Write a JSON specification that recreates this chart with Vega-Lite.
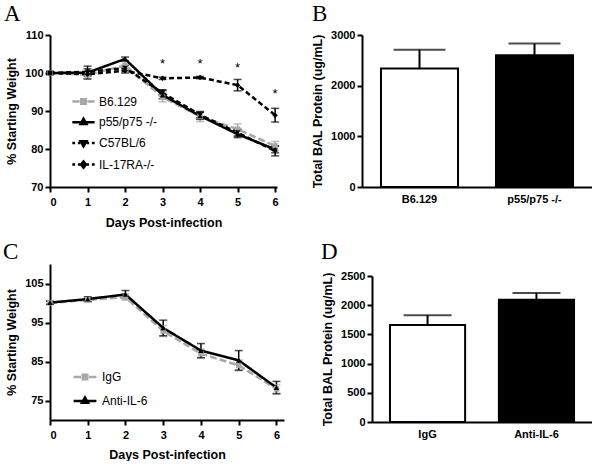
{
  "$schema": "https://vega.github.io/schema/vega-lite/v6.json",
  "padding": {"left": 3, "top": 3, "right": 0, "bottom": 0},
  "background": "white",
  "config": {
    "font": "Liberation Sans",
    "view": {"stroke": null},
    "axis": {
      "grid": false,
      "domainColor": "black",
      "domainWidth": 2,
      "tickColor": "black",
      "tickWidth": 2,
      "tickSize": 5,
      "labelColor": "black",
      "labelFont": "Liberation Sans",
      "labelFontWeight": "bold",
      "labelFontSize": 11,
      "labelOverlap": false,
      "titleColor": "black",
      "titleFont": "Liberation Sans",
      "titleFontWeight": "bold",
      "titleFontSize": 12.5
    },
    "title": {"font": "Liberation Serif", "fontSize": 23, "fontWeight": "normal", "color": "black", "anchor": "start", "frame": "group"},
    "legend": {"labelFont": "Liberation Sans", "labelFontSize": 12, "labelColor": "black", "padding": 0}
  },
  "datasets": {
    "weightA": [
      {"series": "B6.129", "day": 0, "mean": 100.0, "lo": 99.6, "hi": 100.4},
      {"series": "B6.129", "day": 1, "mean": 99.5, "lo": 98.6, "hi": 100.4},
      {"series": "B6.129", "day": 2, "mean": 102.0, "lo": 101.0, "hi": 103.0},
      {"series": "B6.129", "day": 3, "mean": 93.6, "lo": 92.4, "hi": 94.8},
      {"series": "B6.129", "day": 4, "mean": 88.6, "lo": 87.2, "hi": 90.0},
      {"series": "B6.129", "day": 5, "mean": 85.2, "lo": 84.0, "hi": 86.6},
      {"series": "B6.129", "day": 6, "mean": 80.8, "lo": 79.6, "hi": 82.0},
      {"series": "p55/p75 -/-", "day": 0, "mean": 100.0, "lo": 99.6, "hi": 100.4},
      {"series": "p55/p75 -/-", "day": 1, "mean": 100.1, "lo": 98.4, "hi": 101.8},
      {"series": "p55/p75 -/-", "day": 2, "mean": 103.7, "lo": 103.2, "hi": 104.2},
      {"series": "p55/p75 -/-", "day": 3, "mean": 94.2, "lo": 93.2, "hi": 95.4},
      {"series": "p55/p75 -/-", "day": 4, "mean": 88.7, "lo": 87.8, "hi": 89.6},
      {"series": "p55/p75 -/-", "day": 5, "mean": 83.9, "lo": 83.0, "hi": 84.8},
      {"series": "p55/p75 -/-", "day": 6, "mean": 79.9, "lo": 79.0, "hi": 80.8},
      {"series": "C57BL/6", "day": 0, "mean": 100.0, "lo": 99.6, "hi": 100.4},
      {"series": "C57BL/6", "day": 1, "mean": 100.3, "lo": 99.5, "hi": 101.1},
      {"series": "C57BL/6", "day": 2, "mean": 101.3, "lo": 100.6, "hi": 102.0},
      {"series": "C57BL/6", "day": 3, "mean": 94.8, "lo": 94.0, "hi": 95.6},
      {"series": "C57BL/6", "day": 4, "mean": 89.0, "lo": 88.2, "hi": 89.8},
      {"series": "C57BL/6", "day": 5, "mean": 84.3, "lo": 83.4, "hi": 85.2},
      {"series": "C57BL/6", "day": 6, "mean": 79.5, "lo": 78.2, "hi": 80.8},
      {"series": "IL-17RA-/-", "day": 0, "mean": 100.0, "lo": 99.7, "hi": 100.3},
      {"series": "IL-17RA-/-", "day": 1, "mean": 99.7, "lo": 99.2, "hi": 100.2},
      {"series": "IL-17RA-/-", "day": 2, "mean": 100.6, "lo": 100.0, "hi": 101.2},
      {"series": "IL-17RA-/-", "day": 3, "mean": 98.6, "lo": 98.3, "hi": 98.9},
      {"series": "IL-17RA-/-", "day": 4, "mean": 98.8, "lo": 98.5, "hi": 99.1},
      {"series": "IL-17RA-/-", "day": 5, "mean": 96.8, "lo": 95.3, "hi": 98.3},
      {"series": "IL-17RA-/-", "day": 6, "mean": 88.9, "lo": 87.1, "hi": 90.7}
    ],
    "starsA": [
      {"day": 3, "y": 102.4, "label": "*"},
      {"day": 4, "y": 102.4, "label": "*"},
      {"day": 5, "y": 101.2, "label": "*"},
      {"day": 6, "y": 94.5, "label": "*"}
    ],
    "weightC": [
      {"series": "IgG", "day": 0, "mean": 100.0, "lo": 99.6, "hi": 100.4},
      {"series": "IgG", "day": 1, "mean": 100.8, "lo": 100.3, "hi": 101.3},
      {"series": "IgG", "day": 2, "mean": 101.5, "lo": 100.7, "hi": 102.3},
      {"series": "IgG", "day": 3, "mean": 92.8, "lo": 91.4, "hi": 94.2},
      {"series": "IgG", "day": 4, "mean": 87.0, "lo": 85.8, "hi": 88.2},
      {"series": "IgG", "day": 5, "mean": 84.0, "lo": 82.6, "hi": 85.4},
      {"series": "IgG", "day": 6, "mean": 78.0, "lo": 76.9, "hi": 79.1},
      {"series": "Anti-IL-6", "day": 0, "mean": 100.1, "lo": 99.7, "hi": 100.5},
      {"series": "Anti-IL-6", "day": 1, "mean": 101.0, "lo": 100.4, "hi": 101.6},
      {"series": "Anti-IL-6", "day": 2, "mean": 102.2, "lo": 101.2, "hi": 103.2},
      {"series": "Anti-IL-6", "day": 3, "mean": 93.6, "lo": 91.6, "hi": 95.6},
      {"series": "Anti-IL-6", "day": 4, "mean": 87.8, "lo": 86.0, "hi": 89.6},
      {"series": "Anti-IL-6", "day": 5, "mean": 85.3, "lo": 82.8, "hi": 87.8},
      {"series": "Anti-IL-6", "day": 6, "mean": 78.3, "lo": 76.7, "hi": 79.9}
    ],
    "balB": [
      {"group": "B6.129", "value": 2340, "hi": 2710},
      {"group": "p55/p75 -/-", "value": 2600, "hi": 2830}
    ],
    "balD": [
      {"group": "IgG", "value": 1660, "hi": 1830},
      {"group": "Anti-IL-6", "value": 2095, "hi": 2210}
    ]
  },
  "resolve": {
    "scale": {"color": "independent", "shape": "independent", "fill": "independent"},
    "legend": {"color": "independent", "shape": "independent", "fill": "independent"}
  },
  "vconcat": [
    {
      "resolve": {
        "scale": {"color": "independent", "shape": "independent", "fill": "independent"},
        "legend": {"color": "independent", "shape": "independent", "fill": "independent"}
      },
      "hconcat": [
        {
          "title": {"text": "A", "dx": -46, "offset": 3},
          "width": 227,
          "height": 152,
          "data": {"name": "weightA"},
          "encoding": {
            "x": {"field": "day", "type": "quantitative",
                  "scale": {"domain": [0, 6.05], "nice": false, "zero": false},
                  "axis": {"values": [0, 1, 2, 3, 4, 5, 6], "format": "d", "title": "Days Post-infection", "titlePadding": 9, "labelPadding": 4, "labelOverlap": false}}
          },
          "layer": [
            {"mark": {"type": "rule", "strokeWidth": 1.5},
             "encoding": {
               "y": {"field": "lo", "type": "quantitative",
                     "scale": {"domain": [70, 110], "nice": false, "zero": false},
                     "axis": {"values": [70, 80, 90, 100, 110], "tickCount": 20, "format": "d", "title": "% Starting Weight", "titlePadding": 6, "labelOverlap": false}},
               "y2": {"field": "hi"},
               "color": {"condition": {"test": "datum.series === 'B6.129'", "value": "#a8a8a8"}, "value": "black"}}},
            {"mark": {"type": "tick", "orient": "horizontal", "size": 8, "thickness": 1.5},
             "encoding": {"y": {"field": "hi", "type": "quantitative"},
               "color": {"condition": {"test": "datum.series === 'B6.129'", "value": "#a8a8a8"}, "value": "black"}}},
            {"mark": {"type": "tick", "orient": "horizontal", "size": 8, "thickness": 1.5},
             "encoding": {"y": {"field": "lo", "type": "quantitative"},
               "color": {"condition": {"test": "datum.series === 'B6.129'", "value": "#a8a8a8"}, "value": "black"}}},
            {"mark": {"type": "line", "strokeWidth": 2.5},
             "encoding": {
               "y": {"field": "mean", "type": "quantitative"},
               "detail": {"field": "series", "type": "nominal"},
               "strokeDash": {"condition": [
                                {"test": "datum.series === 'B6.129'", "value": [7, 3]},
                                {"test": "datum.series === 'p55/p75 -/-'", "value": [1, 0]}
                              ], "value": [5, 3]},
               "color": {"condition": {"test": "datum.series === 'B6.129'", "value": "#a8a8a8"}, "value": "black"}
             }},
            {"mark": {"type": "point", "filled": true, "size": 30, "opacity": 1},
             "encoding": {
               "y": {"field": "mean", "type": "quantitative"},
               "color": {"condition": {"test": "datum.series === 'B6.129'", "value": "#a8a8a8"}, "value": "black"},
               "shape": {"condition": [
                           {"test": "datum.series === 'B6.129'", "value": "square"},
                           {"test": "datum.series === 'p55/p75 -/-'", "value": "triangle-up"},
                           {"test": "datum.series === 'C57BL/6'", "value": "triangle-down"}
                         ], "value": "diamond"}
             }},
            {"transform": [{"filter": "false"}],
             "mark": {"type": "point", "filled": false},
             "encoding": {
               "y": {"field": "mean", "type": "quantitative"},
               "color": {"field": "series", "type": "nominal",
                         "scale": {"domain": ["B6.129", "p55/p75 -/-", "C57BL/6", "IL-17RA-/-"], "range": ["#a8a8a8", "black", "black", "black"]},
                         "legend": {"orient": "none", "legendX": 21, "legendY": 54, "title": null, "symbolSize": 500, "symbolStrokeWidth": 2.5, "symbolOpacity": 1, "rowPadding": 0.7, "labelOffset": 3}},
               "shape": {"field": "series", "type": "nominal",
                         "scale": {"domain": ["B6.129", "p55/p75 -/-", "C57BL/6", "IL-17RA-/-"],
                                   "range": ["M-1,0H-0.35M0.35,0H1M-0.2,-0.2H0.2V0.2H-0.2ZM-0.08,-0.08H0.08V0.08H-0.08Z",
                                             "M-1,0H1M0,-0.3L0.26,0.15L-0.26,0.15ZM0,-0.1L0.08,0.06L-0.08,0.06Z",
                                             "M-1,0H-0.75M-0.5,0H-0.3M0.3,0H0.5M0.75,0H1M0,0.3L0.26,-0.15L-0.26,-0.15ZM0,0.1L0.08,-0.06L-0.08,-0.06Z",
                                             "M-1,0H-0.75M-0.5,0H-0.3M0.3,0H0.5M0.75,0H1M0,-0.28L0.22,0L0,0.28L-0.22,0ZM0,-0.09L0.07,0L0,0.09L-0.07,0Z"]},
                         "legend": {"orient": "none", "legendX": 21, "legendY": 54, "title": null, "symbolSize": 500, "symbolStrokeWidth": 2.5, "symbolOpacity": 1, "rowPadding": 0.7, "labelOffset": 3}}
             }},
            {"data": {"name": "starsA"},
             "mark": {"type": "text", "fontSize": 13, "color": "black", "baseline": "middle"},
             "encoding": {
               "x": {"field": "day", "type": "quantitative"},
               "y": {"field": "y", "type": "quantitative"},
               "text": {"field": "label"}
             }}
          ]
        },
        {
          "title": {"text": "B", "dx": -50, "offset": 3},
          "width": 230,
          "height": 152,
          "data": {"name": "balB"},
          "encoding": {
            "x": {"field": "group", "type": "nominal", "sort": null,
                  "scale": {"paddingInner": 0.33, "paddingOuter": 0.165},
                  "axis": {"title": null, "labelAngle": 0, "ticks": false, "labelPadding": 6, "labelOverlap": false}}
          },
          "layer": [
            {"mark": {"type": "bar", "stroke": "black", "strokeWidth": 2},
             "encoding": {
               "y": {"field": "value", "type": "quantitative",
                     "scale": {"domain": [0, 3000], "nice": false},
                     "axis": {"values": [0, 1000, 2000, 3000], "tickCount": 20, "format": "d", "title": "Total BAL Protein (ug/mL)", "titlePadding": 6, "labelOverlap": false}},
               "fill": {"field": "group", "type": "nominal", "sort": null, "scale": {"range": ["white", "black"]}, "legend": null}
             }},
            {"mark": {"type": "rule", "strokeWidth": 2, "color": "black"},
             "encoding": {"y": {"field": "value", "type": "quantitative"}, "y2": {"field": "hi"}}},
            {"mark": {"type": "tick", "orient": "horizontal", "size": 52, "thickness": 2, "color": "black"},
             "encoding": {"y": {"field": "hi", "type": "quantitative"}}}
          ]
        }
      ],
      "spacing": 30
    },
    {
      "resolve": {
        "scale": {"color": "independent", "shape": "independent", "fill": "independent"},
        "legend": {"color": "independent", "shape": "independent", "fill": "independent"}
      },
      "hconcat": [
        {
          "title": {"text": "C", "dx": -47, "offset": 0},
          "width": 234,
          "height": 156,
          "data": {"name": "weightC"},
          "encoding": {
            "x": {"field": "day", "type": "quantitative",
                  "scale": {"domain": [0, 6.2], "nice": false, "zero": false},
                  "axis": {"values": [0, 1, 2, 3, 4, 5, 6], "format": "d", "title": "Days Post-infection", "titlePadding": 8, "labelPadding": 4, "labelOverlap": false}}
          },
          "layer": [
            {"mark": {"type": "rule", "strokeWidth": 1.5},
             "encoding": {
               "y": {"field": "lo", "type": "quantitative",
                     "scale": {"domain": [70, 110], "nice": false, "zero": false},
                     "axis": {"values": [75, 85, 95, 105], "tickCount": 20, "format": "d", "title": "% Starting Weight", "titlePadding": 6, "labelOverlap": false}},
               "y2": {"field": "hi"},
               "color": {"condition": {"test": "datum.series === 'IgG'", "value": "#a8a8a8"}, "value": "black"}}},
            {"mark": {"type": "tick", "orient": "horizontal", "size": 8, "thickness": 1.5},
             "encoding": {"y": {"field": "hi", "type": "quantitative"},
               "color": {"condition": {"test": "datum.series === 'IgG'", "value": "#a8a8a8"}, "value": "black"}}},
            {"mark": {"type": "tick", "orient": "horizontal", "size": 8, "thickness": 1.5},
             "encoding": {"y": {"field": "lo", "type": "quantitative"},
               "color": {"condition": {"test": "datum.series === 'IgG'", "value": "#a8a8a8"}, "value": "black"}}},
            {"mark": {"type": "line", "strokeWidth": 2.5},
             "encoding": {
               "y": {"field": "mean", "type": "quantitative"},
               "detail": {"field": "series", "type": "nominal"},
               "strokeDash": {"condition": {"test": "datum.series === 'IgG'", "value": [7, 3]}, "value": [1, 0]},
               "color": {"condition": {"test": "datum.series === 'IgG'", "value": "#a8a8a8"}, "value": "black"}
             }},
            {"mark": {"type": "point", "filled": true, "size": 30, "opacity": 1},
             "encoding": {
               "y": {"field": "mean", "type": "quantitative"},
               "color": {"condition": {"test": "datum.series === 'IgG'", "value": "#a8a8a8"}, "value": "black"},
               "shape": {"condition": {"test": "datum.series === 'IgG'", "value": "square"}, "value": "triangle-up"}
             }},
            {"transform": [{"filter": "false"}],
             "mark": {"type": "point", "filled": false},
             "encoding": {
               "y": {"field": "mean", "type": "quantitative"},
               "color": {"field": "series", "type": "nominal",
                         "scale": {"domain": ["IgG", "Anti-IL-6"], "range": ["#a8a8a8", "black"]},
                         "legend": {"orient": "none", "legendX": 22, "legendY": 100, "title": null, "symbolSize": 520, "symbolStrokeWidth": 2.5, "symbolOpacity": 1, "rowPadding": 3, "labelOffset": 4}},
               "shape": {"field": "series", "type": "nominal",
                         "scale": {"domain": ["IgG", "Anti-IL-6"],
                                   "range": ["M-1,0H-0.35M0.35,0H1M-0.2,-0.2H0.2V0.2H-0.2ZM-0.08,-0.08H0.08V0.08H-0.08Z",
                                             "M-1,0H1M0,-0.3L0.26,0.15L-0.26,0.15ZM0,-0.1L0.08,0.06L-0.08,0.06Z"]},
                         "legend": {"orient": "none", "legendX": 22, "legendY": 100, "title": null, "symbolSize": 520, "symbolStrokeWidth": 2.5, "symbolOpacity": 1, "rowPadding": 3, "labelOffset": 4}}
             }}
          ]
        },
        {
          "title": {"text": "D", "dx": -51, "offset": 0},
          "width": 220,
          "height": 158,
          "data": {"name": "balD"},
          "encoding": {
            "x": {"field": "group", "type": "nominal", "sort": null,
                  "scale": {"paddingInner": 0.31, "paddingOuter": 0.165},
                  "axis": {"title": null, "labelAngle": 0, "ticks": false, "labelPadding": 6, "labelOverlap": false}}
          },
          "layer": [
            {"mark": {"type": "bar", "stroke": "black", "strokeWidth": 2},
             "encoding": {
               "y": {"field": "value", "type": "quantitative",
                     "scale": {"domain": [0, 2500], "nice": false, "range": [158, 12]},
                     "axis": {"values": [0, 500, 1000, 1500, 2000, 2500], "tickCount": 20, "format": "d", "title": "Total BAL Protein (ug/mL)", "titlePadding": 6, "labelOverlap": false}},
               "fill": {"field": "group", "type": "nominal", "sort": null, "scale": {"range": ["white", "black"]}, "legend": null}
             }},
            {"mark": {"type": "rule", "strokeWidth": 2, "color": "black"},
             "encoding": {"y": {"field": "value", "type": "quantitative"}, "y2": {"field": "hi"}}},
            {"mark": {"type": "tick", "orient": "horizontal", "size": 48, "thickness": 2, "color": "black"},
             "encoding": {"y": {"field": "hi", "type": "quantitative"}}}
          ]
        }
      ],
      "spacing": 37
    }
  ],
  "spacing": 12
}
